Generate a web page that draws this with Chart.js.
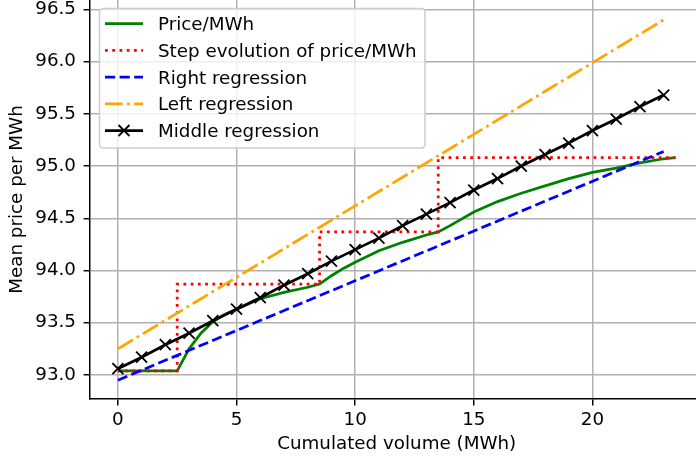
<!DOCTYPE html>
<html>
<head>
<meta charset="utf-8">
<script src="https://cdn.jsdelivr.net/npm/chart.js@4.4.1/dist/chart.umd.min.js"></script>
<style>
  html, body { margin: 0; padding: 0; background: #fff; width: 696px; height: 461px; overflow: hidden; }
  canvas { display: block; }
</style>
</head>
<body>
<canvas id="chart" width="710" height="461"></canvas>
<script>
// Tick labels
const xTicks = [0, 5, 10, 15, 20];
const yTicks = [93.0, 93.5, 94.0, 94.5, 95.0, 95.5, 96.0, 96.5];

// Price per MWh along the cumulated volume
const priceVolume = [0, 2.5, 3, 3.5, 4, 4.5, 5, 6, 7, 8, 8.5, 9, 9.5, 10, 11, 12, 13, 13.5,
                     14, 15, 16, 17, 18, 19, 20, 21, 22, 23, 23.5];
const priceValue  = [93.04, 93.04, 93.25, 93.40, 93.51, 93.58, 93.63, 93.73, 93.79, 93.84, 93.87,
                     93.95, 94.02, 94.08, 94.19, 94.27, 94.34, 94.37,
                     94.43, 94.56, 94.66, 94.74, 94.81, 94.88, 94.94, 94.98, 95.03, 95.07, 95.08];

// Step evolution: each level runs up to the next volume, then jumps
const stepVolume = [0, 2.5, 8.5, 13.5, 23.5];
const stepValue  = [93.04, 93.87, 94.37, 95.08, 95.08];

// Regressions
const rightVolume = [0, 23];
const rightValue  = [92.95, 95.14];
const leftVolume  = [0, 23];
const leftValue   = [93.25, 96.40];
const middleVolume = [0, 1, 2, 3, 4, 5, 6, 7, 8, 9, 10, 11, 12, 13, 14, 15, 16, 17, 18, 19, 20, 21, 22, 23];
const middleValue  = [93.06, 93.17, 93.29, 93.40, 93.52, 93.63, 93.74, 93.86, 93.97, 94.09, 94.20, 94.31,
                      94.43, 94.54, 94.65, 94.77, 94.88, 95.00, 95.11, 95.22, 95.34, 95.45, 95.57, 95.68];

const seriesLabels = ['Price/MWh', 'Step evolution of price/MWh', 'Right regression',
                      'Left regression', 'Middle regression'];

const pts = (xs, ys) => xs.map((x, i) => ({ x: x, y: ys[i] }));

const FS = 18.3;          // 10pt text
const LW = 2.75;          // 1.5pt lines
const THIN = 1.47;        // 0.8pt axes / grid
const MARK = 5.5;         // half width of the x marker
const FONT = { family: '"DejaVu Sans", sans-serif', size: FS };

// Framed legend in the upper-left corner of the plot
const boxLegend = {
  id: 'boxLegend',
  afterDraw(chart) {
    const ctx = chart.ctx;
    const x0 = 99.5, y0 = 8.5, w = 325.5, h = 139.5;
    ctx.save();
    ctx.beginPath();
    ctx.roundRect(x0, y0, w, h, 3.7);
    ctx.fillStyle = 'rgba(255,255,255,0.8)';
    ctx.fill();
    ctx.strokeStyle = '#cccccc';
    ctx.lineWidth = THIN;
    ctx.stroke();
    chart.data.datasets.forEach((ds, i) => {
      const cy = 23.7 + i * 26.7;
      ctx.beginPath();
      ctx.setLineDash(ds.borderDash || []);
      ctx.lineCap = 'butt';
      ctx.strokeStyle = ds.borderColor;
      ctx.lineWidth = ds.borderWidth;
      ctx.moveTo(105, cy);
      ctx.lineTo(143, cy);
      ctx.stroke();
      ctx.setLineDash([]);
      if (ds.pointRadius > 0) {
        const r = MARK, cx = 124;
        ctx.beginPath();
        ctx.lineWidth = ds.pointBorderWidth;
        ctx.moveTo(cx - r, cy - r); ctx.lineTo(cx + r, cy + r);
        ctx.moveTo(cx - r, cy + r); ctx.lineTo(cx + r, cy - r);
        ctx.stroke();
      }
      ctx.fillStyle = '#000';
      ctx.font = FS + 'px "DejaVu Sans"';
      ctx.textBaseline = 'alphabetic';
      ctx.textAlign = 'left';
      ctx.fillText(ds.label, 158, cy + 6.5);
    });
    ctx.restore();
  }
};

new Chart(document.getElementById('chart'), {
  type: 'line',
  data: {
    datasets: [
      { label: seriesLabels[0], data: pts(priceVolume, priceValue), borderColor: '#008000',
        borderWidth: LW, pointRadius: 0, order: 5 },
      { label: seriesLabels[1], data: pts(stepVolume, stepValue), stepped: 'before', borderColor: '#ff0000',
        borderWidth: LW, borderDash: [2.75, 4.5], pointRadius: 0, order: 4 },
      { label: seriesLabels[2], data: pts(rightVolume, rightValue), borderColor: '#0000ff',
        borderWidth: LW, borderDash: [10.2, 4.4], pointRadius: 0, order: 3 },
      { label: seriesLabels[3], data: pts(leftVolume, leftValue), borderColor: '#ffa500',
        borderWidth: LW, borderDash: [17.6, 4.4, 2.75, 4.4], pointRadius: 0, order: 2 },
      { label: seriesLabels[4], data: pts(middleVolume, middleValue), borderColor: '#000000',
        borderWidth: LW, pointStyle: 'crossRot', pointRadius: MARK * Math.SQRT2, pointBorderWidth: 1.83,
        pointBorderColor: '#000000', pointBackgroundColor: '#000000', order: 1 }
    ]
  },
  options: {
    responsive: false,
    animation: false,
    devicePixelRatio: 1,
    events: [],
    layout: { autoPadding: false, padding: { left: 0, top: 0, right: 6.6, bottom: 0 } },
    plugins: { legend: { display: false }, tooltip: { enabled: false } },
    scales: {
      x: {
        type: 'linear',
        min: -1.175,
        max: 24.675,
        afterBuildTicks: s => { s.ticks = xTicks.map(v => ({ value: v })); },
        afterFit: s => { s.height = 62; s.paddingLeft = 0; s.paddingRight = 0; },
        grid: { color: '#b0b0b0', lineWidth: THIN, tickColor: '#000', tickWidth: THIN, tickLength: 6.4 },
        border: { color: '#000', width: THIN },
        ticks: { font: FONT, color: '#000', padding: 4, maxRotation: 0, autoSkip: false,
                 callback: v => String(v) },
        title: { display: true, text: 'Cumulated volume (MWh)', font: FONT, color: '#000',
                 padding: { top: 0, bottom: 6 } }
      },
      y: {
        type: 'linear',
        min: 92.77,
        max: 96.59,
        afterBuildTicks: s => { s.ticks = yTicks.map(v => ({ value: v })); },
        afterFit: s => { s.width = 90; s.paddingTop = 0; s.paddingBottom = 0; },
        grid: { color: '#b0b0b0', lineWidth: THIN, tickColor: '#000', tickWidth: THIN, tickLength: 6.4 },
        border: { color: '#000', width: THIN },
        ticks: { font: FONT, color: '#000', padding: 7.6, autoSkip: false,
                 callback: v => Number(v).toFixed(1) },
        title: { display: true, text: 'Mean price per MWh', font: FONT, color: '#000',
                 padding: { top: 6.5, bottom: 0 } }
      }
    }
  },
  plugins: [boxLegend]
});
</script>
</body>
</html>
